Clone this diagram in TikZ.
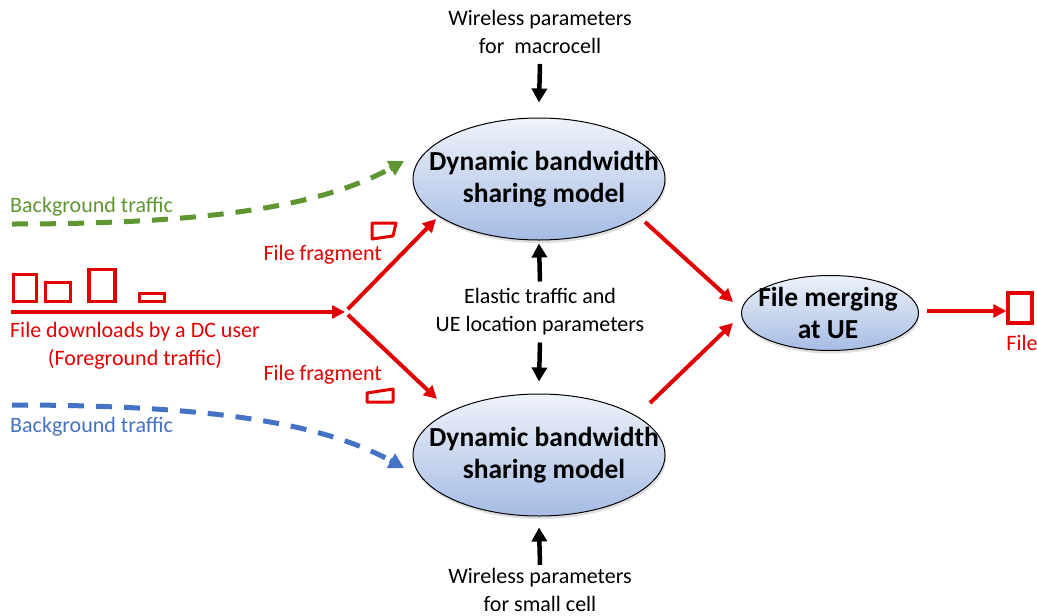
\documentclass[tikz,border=0pt]{standalone}
\usepackage{fontspec}
\setmainfont{Carlito}
\usetikzlibrary{arrows.meta,shadows,shapes.geometric,calc}

\definecolor{fred}{RGB}{226,0,0}
\definecolor{fgreen}{RGB}{94,151,50}
\definecolor{fblue}{RGB}{68,114,196}
\definecolor{elltop}{RGB}{238,242,250}
\definecolor{ellbot}{RGB}{166,188,228}

\tikzset{
  lbl/.style={font=\fontsize{22}{28}\selectfont, align=center, inner sep=1pt},
  rlbl/.style={lbl, text=fred},
  btxt/.style={font=\bfseries\fontsize{27.5}{32}\selectfont, align=center, inner sep=0pt},
  bubble/.style={ellipse, draw=black, line width=1pt, top color=elltop, bottom color=ellbot,
    inner sep=0pt, drop shadow={opacity=0.25, shadow xshift=1pt, shadow yshift=-3pt}},
  dbs/.style={bubble, minimum width=252pt, minimum height=122pt},
  mrg/.style={bubble, minimum width=177pt, minimum height=75pt},
  barrow/.style={line width=4.5pt, -{Triangle[length=14pt,width=15pt]}},
  rarrow/.style={fred, line width=4pt, -{Triangle[length=13pt,width=13pt]}},
  bgflow/.style={line width=5pt, dash pattern=on 16pt off 12pt},
  bgtip/.style={line width=5pt, -{Triangle[length=15pt,width=16pt]}},
  chunk/.style={draw=fred, line width=3.5pt},
}

\begin{document}
\begin{tikzpicture}[x=1pt, y=-1pt]
\useasboundingbox (0,0) rectangle (1037,616);

% model ellipses
\node[dbs, label={[btxt, xshift=5pt]center:Dynamic bandwidth\\sharing model}] (top) at (539,179) {};
\node[dbs, label={[btxt, xshift=5pt]center:Dynamic bandwidth\\sharing model}] (bot) at (539,455) {};
\node[mrg, label={[btxt, xshift=-2pt]center:File merging\\at UE}] (ue) at (830,313) {};

% parameter labels
\node[lbl] (wtop) at (540,32) {Wireless parameters\\for\ \ macrocell};
\node[lbl] (mid) at (540,311.5) {Elastic traffic and\\UE location parameters};
\node[lbl] (wbot) at (540,590) {Wireless parameters\\for small cell};

\draw[barrow] ([yshift=-32pt]wtop.center) -- ([yshift=15pt]top.north);
\draw[barrow] ([yshift=30pt]mid.center) -- ([yshift=-3pt]top.south);
\draw[barrow] ([yshift=-31pt]mid.center) -- ([yshift=12pt]bot.north);
\draw[barrow] ([yshift=25pt]wbot.center) -- ([yshift=-11pt]bot.south);

% foreground file download
\node[chunk, minimum width=23pt, minimum height=27pt, inner sep=0pt] (c1) at (25,288) {};
\node[chunk, minimum width=25pt, minimum height=19pt, inner sep=0pt] (c2) at (58,292) {};
\node[chunk, minimum width=26pt, minimum height=32pt, inner sep=0pt] (c3) at (102,285.5) {};
\node[chunk, minimum width=25pt, minimum height=8pt, inner sep=0pt] (c4) at (152,297.5) {};

\coordinate (src) at (11,312);
\coordinate (split) at (345,312);
\draw[rarrow] (src) -- (split);
\node[rlbl] (fdl) at (135,346) {File downloads by a DC user\\(Foreground traffic)};

% fragments towards the two cells
\coordinate (upt) at (436,219);
\coordinate (lot) at (437,399);
\draw[rarrow, shorten <=4pt] (split) -- (upt);
\draw[rarrow, shorten <=4pt] (split) -- (lot);
\node[rlbl, anchor=east] (ffa) at (383,255) {File fragment};
\node[rlbl, anchor=east] (ffb) at (383,375) {File fragment};
\draw[chunk, line width=3pt, line join=round] (372,223) -- (396,223) -- (393,236) -- (372,239) -- cycle;
\draw[chunk, line width=3pt, line join=round] (367,393) -- (393,389) -- (393,402) -- (367,402) -- cycle;

% merging at the UE
\coordinate (ta) at (645,222);
\coordinate (tb) at (733,302);
\coordinate (ba) at (650,403);
\coordinate (bb) at (733,323);
\draw[rarrow] (ta) -- (tb);
\draw[rarrow] (ba) -- (bb);

\node[chunk, minimum width=24pt, minimum height=30pt, inner sep=0pt] (file) at (1020,308) {};
\coordinate (ueo) at (927,311);
\draw[rarrow] (ueo) -- (ueo -| file.west);
\node[rlbl] (fl) at (1022,343) {File};

% background traffic
\coordinate (gs) at (12,224);
\coordinate (gc) at (330,202);
\coordinate (ge) at (404,161);
\draw[bgflow, fgreen] (gs) .. controls (230,224) and (gc) .. ($(ge)!12pt!(gc)$);
\draw[bgtip, fgreen] ($(ge)!16pt!(gc)$) -- (ge);
\node[lbl, text=fgreen, anchor=west] (gl) at (9,207) {Background traffic};

\coordinate (bs) at (12,405);
\coordinate (bc) at (330,427);
\coordinate (be) at (404,468);
\draw[bgflow, fblue] (bs) .. controls (230,405) and (bc) .. ($(be)!12pt!(bc)$);
\draw[bgtip, fblue] ($(be)!16pt!(bc)$) -- (be);
\node[lbl, text=fblue, anchor=west] (bl) at (9,427) {Background traffic};
\end{tikzpicture}
\end{document}
